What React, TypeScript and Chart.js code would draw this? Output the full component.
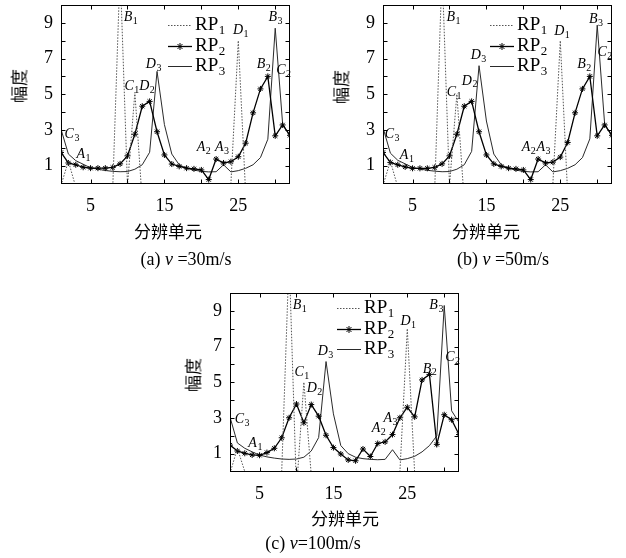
import React, { useEffect, useRef } from 'react';
import { Chart, registerables } from 'chart.js';

Chart.register(...registerables);

// ---------- shared axis data ----------
const cells = [1, 2, 3, 4, 5, 6, 7, 8, 9, 10, 11, 12, 13, 14, 15, 16, 17, 18, 19, 20, 21, 22, 23, 24, 25, 26, 27, 28, 29, 30, 31, 32];
const yTickValues = [1, 2, 3, 4, 5, 6, 7, 8, 9];
const yTickLabels = ['1', '', '3', '', '5', '', '7', '', '9'];
const xTickValues = [5, 10, 15, 20, 25, 30];
const xTickLabels = ['5', '', '15', '', '25', ''];
const seriesNames = ['RP1', 'RP2', 'RP3'];

// ---------- panel (a) v = 30 m/s ----------
const rp1A = [-0.1, 1.25, -0.2, -1, -1, -1, -1, -0.3, 12, -0.1, 5.1, -1, -1, -1, -1, -1, -1, -1, -1, -1, -1, -1, -1, 0, 8.0, -0.6, -1, -1, -1, -1, -1, -1];
const rp2A = [1.74, 1.15, 1.05, 0.91, 0.86, 0.86, 0.86, 0.9, 1.1, 1.55, 2.76, 4.33, 4.6, 2.9, 1.6, 1.09, 0.96, 0.86, 0.82, 0.76, 0.22, 1.37, 1.15, 1.22, 1.5, 2.26, 3.96, 5.3, 6.0, 2.67, 3.28, 2.7];
const rp3A = [3.04, 1.65, 1.28, 1.08, 0.88, 0.8, 0.73, 0.68, 0.66, 0.67, 0.8, 1.05, 1.75, 6.28, 3.3, 1.65, 1.05, 0.85, 0.75, 0.68, 0.65, 0.66, 1.05, 0.65, 0.72, 0.85, 1.05, 1.45, 2.48, 8.7, 3.35, 2.65];
const markA = ['B1', 'C3', 'A1', 'C1', 'D2', 'D3', 'A2', 'A3', 'D1', 'B2', 'B3', 'C2'];
const markXA = [10.4, 2.45, 4.0, 10.55, 12.6, 13.5, 20.3, 22.75, 25.3, 28.4, 30.0, 31.1];
const markYA = [9.3, 2.77, 1.63, 5.43, 5.43, 6.7, 2.03, 2.03, 8.6, 6.68, 9.3, 6.35];

// ---------- panel (b) v = 50 m/s ----------
const rp1B = [-0.1, 1.25, -0.2, -1, -1, -1, -1, -0.3, 12, -0.1, 5.0, -1, -1, -1, -1, -1, -1, -1, -1, -1, -1, -1, -1, 0, 8.0, -0.6, -1, -1, -1, -1, -1, -1];
const rp2B = [1.74, 1.18, 1.05, 0.93, 0.85, 0.85, 0.85, 0.9, 1.1, 1.55, 2.76, 4.33, 4.6, 2.9, 1.6, 1.1, 0.96, 0.86, 0.82, 0.76, 0.22, 1.37, 1.15, 1.2, 1.48, 2.3, 3.96, 5.3, 6.0, 2.67, 3.28, 2.7];
const rp3B = [3.13, 1.7, 1.3, 1.1, 0.9, 0.81, 0.74, 0.69, 0.66, 0.67, 0.8, 1.05, 1.8, 6.6, 3.5, 1.65, 1.05, 0.85, 0.75, 0.68, 0.65, 0.66, 1.05, 0.65, 0.72, 0.85, 1.05, 1.45, 2.5, 8.87, 3.35, 2.65];
const markB = ['B1', 'C3', 'A1', 'C1', 'D2', 'D3', 'A2', 'A3', 'D1', 'B2', 'B3', 'C2'];
const markXB = [10.5, 2.2, 4.2, 10.6, 12.7, 13.9, 20.7, 22.7, 25.2, 28.2, 29.8, 31.0];
const markYB = [9.3, 2.77, 1.6, 5.1, 5.75, 7.17, 2.03, 2.03, 8.5, 6.68, 9.2, 7.35];

// ---------- panel (c) v = 100 m/s ----------
const rp1C = [-0.1, 1.3, 0, -1, -1, -1, -1, 0, 12, -1, 5.0, -0.2, -1, -1, -1, -1, -1, -1, -1, -1, -1, -1, -1, 0, 8.0, -0.1, -1, -1, -1, -1, -1, -1];
const rp2C = [1.48, 1.15, 1.02, 0.93, 0.91, 1.06, 1.3, 1.89, 3.01, 3.78, 2.73, 3.75, 3.1, 2.03, 1.34, 0.98, 0.65, 0.6, 1.26, 0.84, 1.57, 1.66, 2.07, 3.01, 3.6, 3.06, 5.13, 5.44, 1.52, 3.18, 2.9, 2.07];
const rp3C = [3.05, 1.6, 1.3, 1.1, 0.92, 0.82, 0.75, 0.7, 0.68, 0.7, 0.8, 1.15, 1.9, 6.16, 3.23, 1.45, 1.0, 0.8, 0.72, 0.68, 0.66, 0.68, 1.22, 0.65, 0.72, 0.85, 1.1, 1.45, 2.0, 9.3, 3.4, 2.75];
const markC = ['B1', 'C3', 'A1', 'C1', 'D2', 'D3', 'A2', 'A3', 'D1', 'B2', 'B3', 'C2'];
const markXC = [10.4, 2.6, 4.4, 10.7, 12.4, 13.9, 21.1, 22.7, 25.1, 28.0, 28.9, 31.1];
const markYC = [9.3, 2.94, 1.56, 5.55, 4.65, 6.75, 2.4, 3.0, 8.4, 5.75, 9.3, 6.4];

const FONT = '"Liberation Serif", "Times New Roman", serif';
const CJK = '"Noto Sans CJK SC", sans-serif';
const CW = 300;
const CH = 222;

const framePlugin = {
  id: 'frameTicks',
  afterDatasetsDraw(chart: any) {
    const { ctx, chartArea: a, scales } = chart;
    const xs = scales.x;
    const ys = scales.y;
    const L = Math.round(a.left) + 0.5;
    const R = Math.round(a.right) - 0.5;
    const T = Math.round(a.top) + 0.5;
    const B = Math.round(a.bottom) - 0.5;
    ctx.save();
    ctx.strokeStyle = '#000';
    ctx.lineWidth = 1;
    ctx.setLineDash([]);
    ctx.strokeRect(L, T, R - L, B - T);
    ctx.beginPath();
    for (const v of yTickValues) {
      const py = Math.round(ys.getPixelForValue(v)) + 0.5;
      ctx.moveTo(L, py); ctx.lineTo(L + 4, py);
      ctx.moveTo(R, py); ctx.lineTo(R - 4, py);
    }
    for (const v of xTickValues) {
      const px = Math.round(xs.getPixelForValue(v)) + 0.5;
      ctx.moveTo(px, B); ctx.lineTo(px, B - 4);
      ctx.moveTo(px, T); ctx.lineTo(px, T + 4);
    }
    ctx.stroke();
    ctx.restore();
  },
};

function drawStar(ctx: CanvasRenderingContext2D, x: number, y: number, r: number) {
  ctx.beginPath();
  ctx.moveTo(x - r, y); ctx.lineTo(x + r, y);
  ctx.moveTo(x, y - r); ctx.lineTo(x, y + r);
  const d = r * 0.7071;
  ctx.moveTo(x - d, y - d); ctx.lineTo(x + d, y + d);
  ctx.moveTo(x - d, y + d); ctx.lineTo(x + d, y - d);
  ctx.stroke();
}

function makeLegendPlugin(topOffset: number) {
  return {
    id: 'rpLegend',
    afterDatasetsDraw(chart: any) {
      const { ctx, chartArea: a } = chart;
      const x0 = a.left + 107;
      const x1 = a.left + 131;
      const tx = a.left + 134;
      chart.data.datasets.forEach((ds: any, i: number) => {
        const yy = Math.round(a.top + topOffset + i * 20.5) + 0.5;
        ctx.save();
        ctx.strokeStyle = ds.borderColor;
        ctx.lineWidth = ds.borderWidth;
        ctx.setLineDash(ds.borderDash || []);
        ctx.beginPath();
        ctx.moveTo(x0, yy);
        ctx.lineTo(x1, yy);
        ctx.stroke();
        ctx.setLineDash([]);
        if (ds.pointRadius > 0) {
          ctx.lineWidth = 1;
          drawStar(ctx, (x0 + x1) / 2, yy, 3.5);
        }
        const name = seriesNames[i];
        const base = name.slice(0, -1);
        const sub = name.slice(-1);
        ctx.fillStyle = '#000';
        ctx.textAlign = 'left';
        ctx.textBaseline = 'middle';
        ctx.font = '19px ' + FONT;
        ctx.fillText(base, tx, yy);
        const w = ctx.measureText(base).width;
        ctx.font = '13px ' + FONT;
        ctx.fillText(sub, tx + w + 0.5, yy + 5);
        ctx.restore();
      });
    },
  };
}

function makeMarkPlugin(texts: string[], xs: number[], ys: number[]) {
  return {
    id: 'marks',
    afterDatasetsDraw(chart: any) {
      const { ctx, scales } = chart;
      ctx.save();
      ctx.fillStyle = '#000';
      ctx.textAlign = 'left';
      ctx.textBaseline = 'middle';
      texts.forEach((t, i) => {
        const base = t.slice(0, 1);
        const sub = t.slice(1);
        ctx.font = 'italic 14px ' + FONT;
        const w1 = ctx.measureText(base).width;
        ctx.font = '10px ' + FONT;
        const w2 = ctx.measureText(sub).width;
        const cx = scales.x.getPixelForValue(xs[i]);
        const cy = scales.y.getPixelForValue(ys[i]);
        const left = cx - (w1 + w2) / 2;
        ctx.font = 'italic 14px ' + FONT;
        ctx.fillText(base, left, cy);
        ctx.font = '10px ' + FONT;
        ctx.fillText(sub, left + w1 + 0.5, cy + 4);
      });
      ctx.restore();
    },
  };
}

function toPoints(vals: number[]) {
  return cells.map((c, i) => ({ x: c, y: vals[i] }));
}

type PanelSpec = {
  left: number;
  top: number;
  rp1: number[];
  rp2: number[];
  rp3: number[];
  marks: string[];
  markX: number[];
  markY: number[];
  legendTop: number;
};

const panels: PanelSpec[] = [
  { left: 0, top: 0, rp1: rp1A, rp2: rp2A, rp3: rp3A, marks: markA, markX: markXA, markY: markYA, legendTop: 20 },
  { left: 322, top: 0, rp1: rp1B, rp2: rp2B, rp3: rp3B, marks: markB, markX: markXB, markY: markYB, legendTop: 20 },
  { left: 169, top: 288, rp1: rp1C, rp2: rp2C, rp3: rp3C, marks: markC, markX: markXC, markY: markYC, legendTop: 15 },
];

function buildConfig(p: PanelSpec): any {
  return {
    type: 'line',
    data: {
      datasets: [
        { label: seriesNames[0], data: toPoints(p.rp1), borderColor: '#555', borderWidth: 1, borderDash: [1.5, 1.5], pointRadius: 0, tension: 0, fill: false },
        { label: seriesNames[1], data: toPoints(p.rp2), borderColor: '#000', borderWidth: 1.3, pointStyle: 'star', pointRadius: 3, pointBorderColor: '#000', pointBackgroundColor: '#000', pointBorderWidth: 1, tension: 0, fill: false },
        { label: seriesNames[2], data: toPoints(p.rp3), borderColor: '#2a2a2a', borderWidth: 1, pointRadius: 0, tension: 0, fill: false },
      ],
    },
    options: {
      responsive: false,
      animation: false,
      events: [],
      layout: { padding: { left: 0, top: 2.5, right: 10, bottom: 0 } },
      plugins: { legend: { display: false }, tooltip: { enabled: false }, title: { display: false } },
      scales: {
        x: {
          type: 'linear',
          min: 1,
          max: 32,
          grid: { display: false, drawTicks: false },
          border: { display: false },
          afterBuildTicks: (s: any) => { s.ticks = xTickValues.map((v) => ({ value: v })); },
          afterFit: (s: any) => { s.height = CH - 183.5; s.paddingLeft = 0; s.paddingRight = 0; },
          ticks: {
            autoSkip: false,
            maxRotation: 0,
            padding: 12,
            color: '#000',
            font: { size: 18, family: FONT },
            callback: (_v: any, i: number) => xTickLabels[i],
          },
        },
        y: {
          type: 'linear',
          min: 0,
          max: 10,
          grid: { display: false, drawTicks: false },
          border: { display: false },
          afterBuildTicks: (s: any) => { s.ticks = yTickValues.map((v) => ({ value: v })); },
          afterFit: (s: any) => { s.width = 61; s.paddingTop = 0; s.paddingBottom = 0; },
          ticks: {
            autoSkip: false,
            padding: 8,
            color: '#000',
            font: { size: 18, family: FONT },
            callback: (_v: any, i: number) => yTickLabels[i],
          },
        },
      },
    },
    plugins: [framePlugin, makeLegendPlugin(p.legendTop), makeMarkPlugin(p.marks, p.markX, p.markY)],
  };
}

function Panel({ spec }: { spec: PanelSpec }) {
  const ref = useRef<HTMLCanvasElement | null>(null);
  useEffect(() => {
    if (!ref.current) return;
    const chart = new Chart(ref.current, buildConfig(spec));
    return () => chart.destroy();
  }, [spec]);
  return (
    <canvas
      ref={ref}
      width={CW}
      height={CH}
      style={{ position: 'absolute', left: spec.left, top: spec.top, width: CW, height: CH }}
    />
  );
}

function Txt({ x, y, rotate, style, children }: any) {
  return (
    <div
      style={{
        position: 'absolute',
        left: x,
        top: y,
        transform: 'translate(-50%, -50%)' + (rotate ? ' rotate(-90deg)' : ''),
        whiteSpace: 'nowrap',
        lineHeight: 1,
        color: '#000',
        ...style,
      }}
    >
      {children}
    </div>
  );
}

export default function App() {
  const cjk = { fontFamily: CJK, fontSize: 17 };
  const cap = { fontFamily: FONT, fontSize: 18 };
  return (
    <div style={{ position: 'absolute', left: 0, top: 0, width: 626, height: 558, background: '#fff', overflow: 'hidden' }}>
      {panels.map((p, i) => (
        <Panel key={i} spec={p} />
      ))}
      <Txt x={18} y={86} rotate style={cjk}>幅度</Txt>
      <Txt x={168} y={230} style={cjk}>分辨单元</Txt>
      <Txt x={186} y={259} style={cap}>(a) <i>v</i> =30m/s</Txt>

      <Txt x={340} y={87} rotate style={cjk}>幅度</Txt>
      <Txt x={486} y={230} style={cjk}>分辨单元</Txt>
      <Txt x={503} y={259} style={cap}>(b) <i>v</i> =50m/s</Txt>

      <Txt x={192} y={375} rotate style={cjk}>幅度</Txt>
      <Txt x={345} y={517} style={cjk}>分辨单元</Txt>
      <Txt x={313} y={543} style={cap}>(c) <i>v</i>=100m/s</Txt>
    </div>
  );
}
